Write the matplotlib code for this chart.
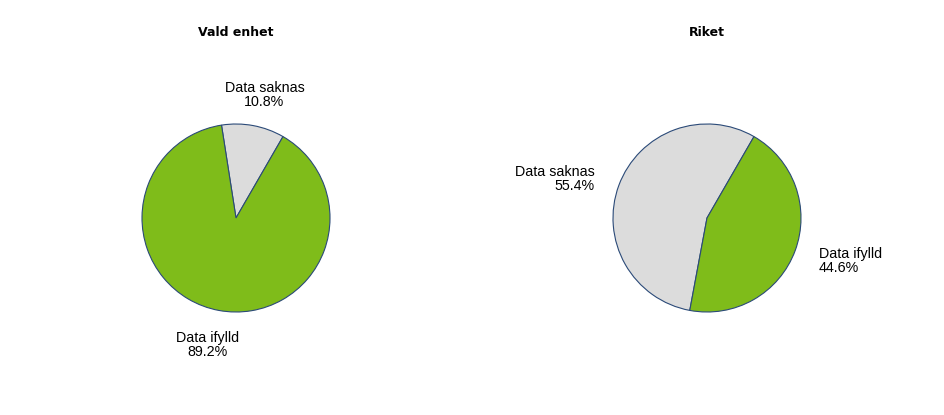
import matplotlib.pyplot as plt
import numpy as np

# Andelar per enhet
etiketter = ["Data saknas", "Data ifylld"]
vald_enhet = [10.8, 89.2]
riket = [55.4, 44.6]
titlar = ["Vald enhet", "Riket"]

farger = ["#dcdcdc", "#7fbc1a"]
kant = "#2b4a78"

W, H = 944, 415
R = 94.0  # pie radius in pixels


def rita_paj(fig, cx, cy, varden, titel):
    w, h = 440, 330
    ax = fig.add_axes([(cx - w / 2) / W, 1 - (cy + h / 2) / H, w / W, h / H])
    wedges, _ = ax.pie(varden, colors=farger, startangle=60, counterclock=True,
                       wedgeprops=dict(edgecolor=kant, linewidth=0.8))
    ax.set_xlim(-w / 2 / R, w / 2 / R)
    ax.set_ylim(-h / 2 / R, h / 2 / R)
    ax.set_aspect("equal")
    ax.axis("off")

    for wdg, etikett, v in zip(wedges, etiketter, varden):
        vinkel = np.deg2rad((wdg.theta1 + wdg.theta2) / 2)
        c, s = np.cos(vinkel), np.sin(vinkel)
        if abs(c) < 0.5:
            # centrerade etiketter hamnar lite till vänster
            vinkel = vinkel - np.deg2rad(2.3)
            c, s = np.cos(vinkel), np.sin(vinkel)
            ha, d = "center", 1.36
        else:
            ha, d = ("left" if c > 0 else "right"), 1.27
        ax.text(d * c, d * s - 0.02, "%s\n%.1f%%" % (etikett, v), ha=ha, va="center",
                multialignment=ha, fontsize=10.3, family="Liberation Sans",
                linespacing=1.0)

    fig.text(cx / W, 1 - 32 / H, titel, ha="center", va="center",
             fontsize=9, fontweight="bold", family="DejaVu Sans")


fig = plt.figure(figsize=(W / 100, H / 100), dpi=100)
rita_paj(fig, 236, 218, vald_enhet, titlar[0])
rita_paj(fig, 707, 218, riket, titlar[1])
fig.savefig("out.png", dpi=100)
